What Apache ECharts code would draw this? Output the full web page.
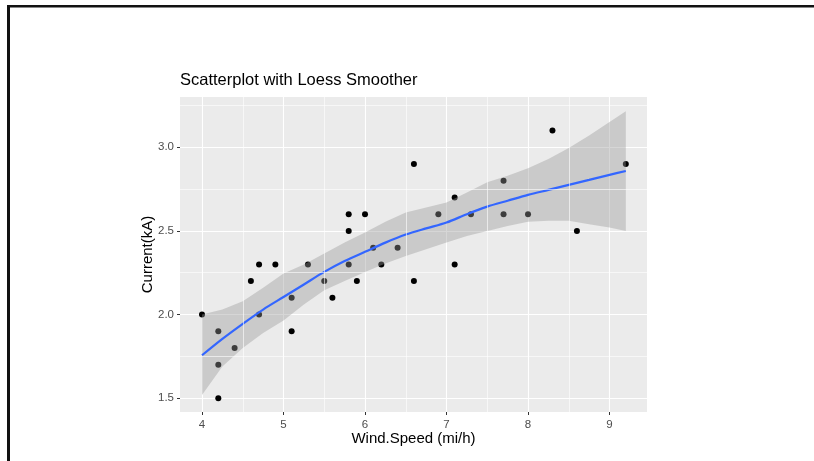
<!DOCTYPE html>
<html>
<head>
<meta charset="utf-8">
<title>Scatterplot with Loess Smoother</title>
<script src="https://cdn.jsdelivr.net/npm/echarts@6/dist/echarts.min.js"></script>
<style>
  html, body { margin: 0; padding: 0; background: #fff; }
  #chart { width: 814px; height: 461px; }
</style>
</head>
<body>
<div id="chart"></div>
<script>
// observed points
const windSpeed = [4.0, 4.2, 4.2, 4.2, 4.4, 4.6, 4.7, 4.7, 4.9, 5.1, 5.1, 5.3, 5.5, 5.6, 5.8, 5.8, 5.8,
                   5.9, 6.0, 6.1, 6.2, 6.4, 6.6, 6.6, 6.9, 7.1, 7.1, 7.3, 7.7, 7.7, 8.0, 8.3, 8.6, 9.2];
const current = [2.0, 1.9, 1.7, 1.5, 1.8, 2.2, 2.3, 2.0, 2.3, 2.1, 1.9, 2.3, 2.2, 2.1, 2.6, 2.5, 2.3,
                 2.2, 2.6, 2.4, 2.3, 2.4, 2.9, 2.2, 2.6, 2.7, 2.3, 2.6, 2.8, 2.6, 2.6, 3.1, 2.5, 2.9];

// loess fit and its confidence band
const smoothX = [4.0, 4.25, 4.5, 4.75, 5.0, 5.25, 5.5, 5.75, 6.0, 6.25, 6.5, 6.75, 7.0, 7.25, 7.5,
                 7.75, 8.0, 8.25, 8.5, 8.75, 9.0, 9.2];
const smoothY = [1.757, 1.855, 1.945, 2.03, 2.105, 2.18, 2.255, 2.32, 2.375, 2.43, 2.478, 2.515, 2.55, 2.60,
                 2.645, 2.68, 2.715, 2.745, 2.775, 2.805, 2.835, 2.858];
const bandUpper = [2.00, 2.03, 2.08, 2.16, 2.245, 2.30, 2.365, 2.43, 2.49, 2.555, 2.61, 2.64, 2.67, 2.73,
                   2.79, 2.83, 2.875, 2.93, 2.995, 3.07, 3.15, 3.215];
const bandLower = [1.52, 1.69, 1.80, 1.89, 1.965, 2.06, 2.145, 2.20, 2.255, 2.305, 2.35, 2.39, 2.43, 2.47,
                   2.50, 2.53, 2.555, 2.56, 2.56, 2.54, 2.52, 2.50];

// axis ticks
const xTicks = [4, 5, 6, 7, 8, 9];
const yTicks = [1.5, 2.0, 2.5, 3.0];
const xMinor = [4.5, 5.5, 6.5, 7.5, 8.5];
const yMinor = [1.75, 2.25, 2.75, 3.25];

const chart = echarts.init(document.getElementById('chart'));

const labelStyle = { color: '#4D4D4D', fontSize: 11.5, fontFamily: 'Liberation Sans' };
const tickStyle = { show: true, length: 3, lineStyle: { color: '#333', width: 1 } };
const nameStyle = { color: '#000', fontSize: 15, fontFamily: 'Liberation Sans' };

chart.setOption({
    animation: false,
    title: {
        text: 'Scatterplot with Loess Smoother',
        left: 175, top: 67,
        textStyle: { fontSize: 16.5, fontWeight: 'normal', color: '#000', fontFamily: 'Liberation Sans' }
    },
    graphic: [
        { type: 'line', shape: { x1: 8.5, y1: 5, x2: 8.5, y2: 461 }, style: { stroke: '#111', lineWidth: 3 } },
        { type: 'line', shape: { x1: 7, y1: 6.2, x2: 814, y2: 6.2 }, style: { stroke: '#111', lineWidth: 2.5 } }
    ],
    grid: {
        left: 180, top: 97, width: 467, height: 315,
        show: true, backgroundColor: '#EBEBEB', borderWidth: 0
    },
    xAxis: {
        type: 'value', min: 3.73, max: 9.46,
        name: 'Wind.Speed (mi/h)', nameLocation: 'middle', nameGap: 19, nameMoveOverlap: false,
        nameTextStyle: nameStyle,
        axisLine: { show: false },
        axisTick: Object.assign({ customValues: xTicks }, tickStyle),
        axisLabel: Object.assign({ customValues: xTicks, margin: 7 }, labelStyle),
        splitLine: { show: true, lineStyle: { color: '#fff', width: 1.1 } }
    },
    yAxis: {
        type: 'value', min: 1.418, max: 3.30,
        name: 'Current(kA)', nameLocation: 'middle', nameGap: 25, nameRotate: 90, nameMoveOverlap: false,
        nameTextStyle: nameStyle,
        axisLine: { show: false },
        axisTick: Object.assign({ customValues: yTicks }, tickStyle),
        axisLabel: Object.assign({ customValues: yTicks, margin: 6,
            formatter: v => v.toFixed(1) }, labelStyle),
        splitLine: { show: true, lineStyle: { color: '#fff', width: 1.1 } }
    },
    series: [
        {
            // minor grid lines
            type: 'line', data: [], z: 1, silent: true,
            markLine: {
                silent: true, symbol: 'none', animation: false,
                label: { show: false },
                lineStyle: { color: '#fff', width: 0.6, type: 'solid' },
                emphasis: { disabled: true },
                data: xMinor.map(v => ({ xAxis: v })).concat(yMinor.map(v => ({ yAxis: v })))
            }
        },
        {
            type: 'scatter', z: 2,
            symbolSize: 6,
            itemStyle: { color: '#000', opacity: 1 },
            data: windSpeed.map((x, i) => [x, current[i]])
        },
        {
            type: 'custom', z: 3, silent: true,
            data: smoothX.map((x, i) => [x, bandLower[i], bandUpper[i]]),
            encode: { x: 0, y: [1, 2] },
            renderItem: function (params, api) {
                if (params.dataIndex !== 0) return null;
                const pts = [];
                for (let i = 0; i < smoothX.length; i++) pts.push(api.coord([smoothX[i], bandUpper[i]]));
                for (let i = smoothX.length - 1; i >= 0; i--) pts.push(api.coord([smoothX[i], bandLower[i]]));
                return { type: 'polygon', shape: { points: pts },
                         style: { fill: 'rgba(153,153,153,0.4)' } };
            }
        },
        {
            type: 'line', z: 4,
            showSymbol: false, smooth: 0.3,
            lineStyle: { color: '#3366FF', width: 2.2 },
            data: smoothX.map((x, i) => [x, smoothY[i]])
        }
    ]
});
</script>
</body>
</html>
